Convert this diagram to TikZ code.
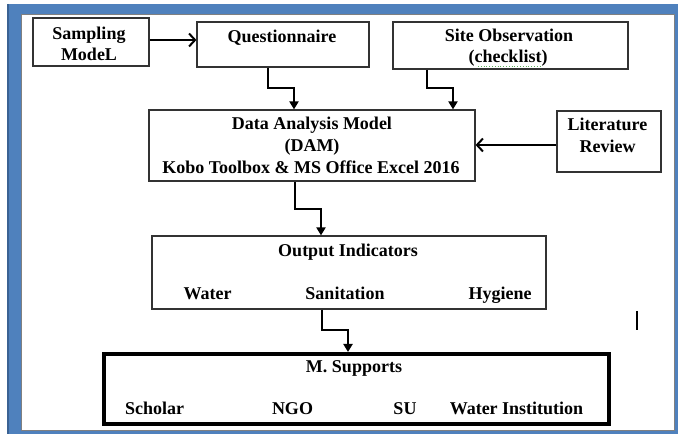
\documentclass[tikz,border=0pt]{standalone}
\usepackage{fontspec}
\setmainfont{Liberation Serif}
\usetikzlibrary{arrows.meta}
\definecolor{framecol}{HTML}{4F81BD}
\definecolor{framedark}{HTML}{3A6293}
\definecolor{boxline}{HTML}{333333}
\definecolor{spellgreen}{HTML}{5FAF5F}
\tikzset{
  box/.style={draw=boxline, line width=1.2pt, rectangle, inner sep=0pt},
  bigbox/.style={draw=black, line width=4pt, rectangle, inner sep=0pt},
  txt/.style={anchor=base, inner sep=0pt, font=\fontsize{18}{22}\selectfont\bfseries},
  varr/.style={draw=black, line width=2pt, -{Triangle[length=8pt,width=9pt]}},
  harr/.style={draw=black, line width=2pt, -{Straight Barb[length=6pt,width=13pt,line width=2pt]}}
}
\begin{document}
\begin{tikzpicture}[x=1pt,y=-1pt]
\useasboundingbox (0,0) rectangle (678,435);
% frame
\fill[framecol] (7,4) rectangle (678,434);
\draw[framedark, line width=1.5pt] (7.75,4) -- (7.75,434);
\fill[white] (21,14) rectangle (674,430);
\draw[gray, line width=0.8pt] (21,14) rectangle (674,430);

% boxes
\node[box, minimum width=116pt, minimum height=48pt] (samp) at (91,42) {};
\node[box, minimum width=172pt, minimum height=45pt] (quest) at (283,44.5) {};
\node[box, minimum width=235pt, minimum height=47pt] (site) at (510.5,45.5) {};
\node[box, minimum width=326pt, minimum height=71pt] (dam) at (312,145.5) {};
\node[box, minimum width=104pt, minimum height=61pt] (lit) at (609,141.5) {};
\node[box, minimum width=394pt, minimum height=73pt] (out) at (349,272.5) {};
\node[bigbox, minimum width=505pt, minimum height=70pt] (ms) at (356.5,389) {};

% texts
\node[txt] (t1) at (89,40) {Sampling};
\node[txt] (t2) at (89,61) {ModeL};
\node[txt] (t3) at (282,43) {Questionnaire};
\node[txt] (t4) at (509,42) {Site Observation};
\node[txt] (t5) at (508,63) {(checklist)};
\draw[spellgreen, line width=0.8pt, dotted] (478,66.5) -- (542,66.5);
\node[txt] (t6) at (312,130) {Data Analysis Model};
\node[txt] (t7) at (312,152) {(DAM)};
\node[txt] (t8) at (311,174) {Kobo Toolbox \& MS Office Excel 2016};
\node[txt] (t9) at (607.5,131) {Literature};
\node[txt] (t10) at (607.5,153) {Review};
\node[txt] (t11) at (348,257) {Output Indicators};
\node[txt] (t12) at (207.5,300) {Water};
\node[txt] (t13) at (345,300) {Sanitation};
\node[txt] (t14) at (500,300) {Hygiene};
\node[txt] (t15) at (354,373) {M. Supports};
\node[txt] (t16) at (154.5,415) {Scholar};
\node[txt] (t17) at (292.5,415) {NGO};
\node[txt] (t18) at (405,415) {SU};
\node[txt] (t19) at (516.5,415) {Water Institution};

% stray text cursor
\coordinate (cur1) at (637,311);
\coordinate (cur2) at (637,330);
\draw[black, line width=2pt] (cur1) -- (cur2);

% connectors
\draw[harr] ([yshift=2pt]samp.east) -- ([yshift=2pt]samp.east -| quest.west);
\draw[harr] ([yshift=-3.5pt]lit.west) -- ([yshift=-3.5pt]lit.west -| dam.east);
\draw[varr] ([xshift=-15.5pt]quest.south) -- ++(0,20) -| ([xshift=-18pt]dam.north);
\draw[varr] ([xshift=-83.5pt]site.south) -- ++(0,18) -| ([xshift=141pt]dam.north);
\draw[varr] ([xshift=-17pt]dam.south) -- ++(0,27) -| ([xshift=-28pt]out.north);
\draw[varr] ([xshift=-27pt]out.south) -- ++(0,20) -| ([xshift=-8.5pt]ms.north);
\end{tikzpicture}
\end{document}
